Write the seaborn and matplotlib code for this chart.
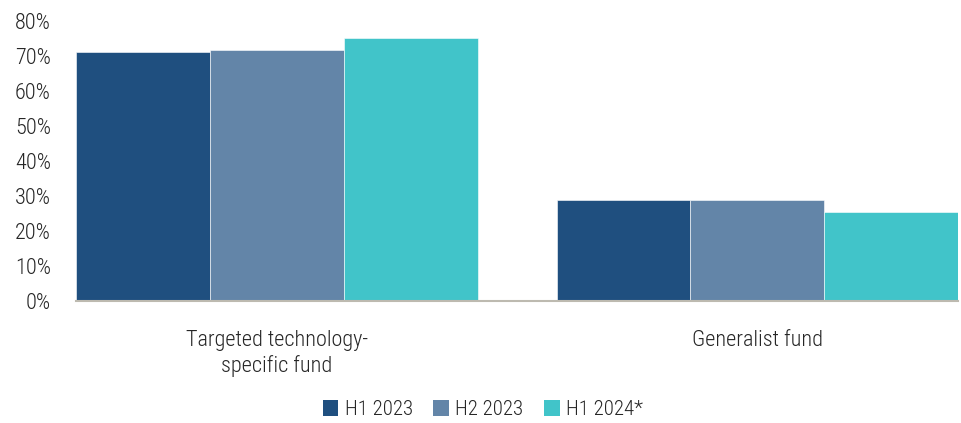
import matplotlib
matplotlib.use("Agg")
import matplotlib.pyplot as plt
import matplotlib.font_manager as fm
from matplotlib.patches import Patch
import seaborn as sns
import pandas as pd

# Fund-type shares by half-year
categories = ["Targeted technology-\nspecific fund", "Generalist fund"]
periods = ["H1 2023", "H2 2023", "H1 2024*"]
h1_2023 = [71.0, 28.9]
h2_2023 = [71.7, 28.9]
h1_2024 = [75.2, 25.3]
yticks = [0, 10, 20, 30, 40, 50, 60, 70, 80]
colors = ["#1F4F7F", "#6385A8", "#41C4C9"]

rows = []
for period, vals in zip(periods, [h1_2023, h2_2023, h1_2024]):
    for cat, v in zip(categories, vals):
        rows.append({"category": cat, "period": period, "share": v})
df = pd.DataFrame(rows)

sns.set_style("white")
names = {f.name for f in fm.fontManager.ttflist}
family = "DejaVu Sans"
for cand in ["Liberation Sans Narrow", "Roboto Condensed", "Open Sans Condensed", "Lato"]:
    if cand in names:
        family = cand
        break
plt.rcParams["font.family"] = [family, "DejaVu Sans"]
plt.rcParams["font.weight"] = "light"

fig = plt.figure(figsize=(9.62, 4.23), dpi=100)
ax = fig.add_axes([0.079, 0.2884, 0.917, 0.662])

group_w = 0.8356
sns.barplot(data=df, x="category", y="share", hue="period", order=categories,
            hue_order=periods, palette=colors, width=group_w, gap=0,
            saturation=1, legend=False, ax=ax, edgecolor="white", linewidth=0.4)

ax.set_xlim(-group_w / 2, 1 + group_w / 2)
ax.set_ylim(0, 80)
ax.set_yticks(yticks)
ax.set_yticklabels([f"{t}%" for t in yticks])
ax.set_xlabel("")
ax.set_ylabel("")
for s in ["top", "right", "left"]:
    ax.spines[s].set_visible(False)
ax.spines["bottom"].set_color("#BDBAB0")
ax.spines["bottom"].set_linewidth(1.5)
ax.tick_params(axis="y", length=0, pad=18, labelsize=16, labelcolor="#262626")
ax.tick_params(axis="x", length=0, pad=21, labelsize=16, labelcolor="#262626")

handles = [Patch(facecolor=c, edgecolor="none") for c in colors]
fig.legend(handles, periods, loc="center", bbox_to_anchor=(0.502, 0.031), ncol=3,
           frameon=False, fontsize=15, handlelength=0.75, handleheight=0.75,
           handletextpad=0.3, columnspacing=1.0, labelcolor="#262626")

fig.savefig("out.png", dpi=100)
